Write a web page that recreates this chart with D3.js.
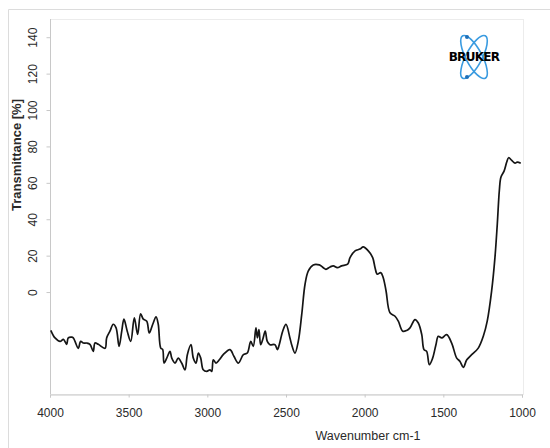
<!DOCTYPE html>
<html>
  <head>
    <meta charset="utf-8">
    <script src="https://d3js.org/d3.v7.min.js"></script>
    <style>
      body { margin: 0; background: #fff; }
      svg { font-family: "Liberation Sans", Arial, sans-serif; }
    </style>
  </head>
  <body>
    <script>

      // wavenumbers (cm-1)
      var wavenumber = [3995, 3968, 3936, 3915, 3894, 3884, 3862, 3852, 3841, 3820,
                        3805, 3788, 3767, 3746, 3725, 3714, 3693, 3650, 3640, 3619,
                        3598, 3580, 3561, 3544, 3530, 3509, 3487, 3464, 3443, 3424,
                        3407, 3385, 3369, 3347, 3326, 3312, 3296, 3284, 3275, 3258,
                        3237, 3226, 3205, 3185, 3163, 3142, 3127, 3104, 3089, 3072,
                        3057, 3042, 3026, 3004, 2983, 2972, 2962, 2945, 2924, 2899,
                        2856, 2831, 2803, 2771, 2746, 2724, 2708, 2691, 2682, 2672,
                        2661, 2648, 2632, 2619, 2602, 2570, 2555, 2543, 2521, 2500,
                        2475, 2464, 2443, 2422, 2400, 2379, 2358, 2327, 2288, 2263,
                        2246, 2220, 2199, 2174, 2146, 2108, 2093, 2061, 2030, 2009,
                        1977, 1949, 1934, 1920, 1898, 1882, 1864, 1839, 1807, 1786,
                        1758, 1733, 1712, 1680, 1659, 1637, 1623, 1606, 1589, 1568,
                        1547, 1532, 1510, 1479, 1447, 1415, 1394, 1373, 1351, 1320,
                        1278, 1246, 1221, 1193, 1172, 1157, 1144, 1134, 1114, 1097,
                        1085, 1065, 1044, 1030, 1008];

      // transmittance [%]
      var transmittance = [-21.0, -25.2, -27.1, -26.0, -28.7, -25.2, -24.8, -25.2, -27.1, -30.9,
                           -27.1, -28.0, -28.0, -28.7, -32.6, -28.0, -28.7, -30.9, -25.2, -21.5,
                           -17.7, -19.7, -29.8, -21.5, -14.9, -21.5, -27.1, -14.2, -23.2, -12.0,
                           -14.9, -16.0, -22.5, -17.7, -13.6, -17.7, -30.8, -31.5, -39.0, -36.3,
                           -32.6, -36.3, -39.0, -36.3, -39.0, -42.7, -34.4, -28.9, -36.3, -39.0,
                           -33.5, -36.3, -42.7, -43.6, -42.7, -43.6, -37.2, -39.0, -37.2, -34.4,
                           -31.6, -35.3, -39.0, -34.4, -33.5, -27.1, -29.8, -19.7, -25.2, -20.6,
                           -28.9, -26.1, -21.5, -27.1, -28.9, -28.9, -31.6, -28.9, -21.5, -17.8,
                           -25.2, -28.9, -33.5, -27.1, -12.3, 4.3, 11.6, 14.9, 14.9, 13.4,
                           12.5, 13.8, 14.4, 13.4, 14.4, 15.3, 18.9, 22.6, 23.6, 24.8,
                           22.6, 18.9, 13.4, 9.8, 10.7, 7.9, 0.6, -11.4, -13.3, -16.0,
                           -21.5, -21.1, -19.7, -15.1, -17.0, -23.4, -31.6, -32.6, -39.9, -36.3,
                           -28.9, -24.3, -25.2, -23.4, -28.0, -36.3, -38.1, -41.4, -37.2, -34.4,
                           -30.8, -24.3, -16.0, 0.6, 18.9, 37.4, 55.8, 63.1, 66.4, 71.4,
                           73.8, 72.3, 70.8, 71.4, 70.8];

      var xTicks = [4000, 3500, 3000, 2500, 2000, 1500, 1000];
      var yTicks = [0, 20, 40, 60, 80, 100, 120, 140];

      var spectrum = wavenumber.map(function(w, i) {
        return {w: w, t: transmittance[i]};
      });

      var W = 550, H = 448;
      var plot = {left: 50, right: 523, top: 19, bottom: 394};

      var svg = d3.select("body")
        .append("svg")
        .attr("width", W)
        .attr("height", H);

      // outer frame (left and top edges only are visible)
      svg.append("path")
        .attr("d", "M8.5," + H + "V9.5H" + W)
        .attr("fill", "none")
        .attr("stroke", "#dcdcdc");

      var x = d3.scaleLinear()
        .domain([4000, 1000])
        .range([plot.left, plot.right - 1]);

      var y = d3.scaleLinear()
        .domain([-56, 150])
        .range([plot.bottom, plot.top]);

      // plot box
      svg.append("rect")
        .attr("x", plot.left + 0.5)
        .attr("y", plot.top + 0.5)
        .attr("width", plot.right - plot.left)
        .attr("height", plot.bottom - plot.top)
        .attr("fill", "none")
        .attr("stroke", "#ececec");

      // x axis
      var xAxisG = svg.append("g")
        .attr("transform", "translate(0," + (plot.bottom + 0.5) + ")")
        .call(d3.axisBottom(x).tickValues(xTicks).tickSize(3).tickPadding(11)
          .tickFormat(d3.format("d")));

      xAxisG.select(".domain").attr("stroke", "#c8c8c8");
      xAxisG.selectAll(".tick line").attr("stroke", "#c8c8c8");
      xAxisG.selectAll(".tick text")
        .attr("fill", "#2a2a2a")
        .style("font-size", "12px");

      // y axis, labels turned on their side
      var yAxisG = svg.append("g")
        .attr("transform", "translate(" + (plot.left + 0.5) + ",0)")
        .call(d3.axisLeft(y).tickValues(yTicks).tickSize(4));

      yAxisG.select(".domain").remove();
      yAxisG.append("line")
        .attr("y1", plot.top)
        .attr("y2", plot.bottom)
        .attr("stroke", "#c8c8c8");
      yAxisG.selectAll(".tick line").attr("stroke", "#c8c8c8");
      yAxisG.selectAll(".tick text")
        .attr("x", 0)
        .attr("dy", "0.35em")
        .attr("transform", "translate(-18,0) rotate(-90)")
        .attr("text-anchor", "middle")
        .attr("fill", "#2a2a2a")
        .style("font-size", "12px");

      // axis titles
      svg.append("text")
        .attr("transform", "translate(16,155) rotate(-90)")
        .attr("dy", "0.35em")
        .attr("text-anchor", "middle")
        .attr("fill", "#2a2a2a")
        .style("font-size", "13px")
        .style("font-weight", "bold")
        .text("Transmittance [%]");

      svg.append("text")
        .attr("x", 368)
        .attr("y", 440)
        .attr("text-anchor", "middle")
        .attr("fill", "#2a2a2a")
        .style("font-size", "12.5px")
        .text("Wavenumber cm-1");

      // spectrum
      var line = d3.line()
        .x(function(d) { return x(d.w); })
        .y(function(d) { return y(d.t); })
        .curve(d3.curveCatmullRom.alpha(0.5));

      svg.append("path")
        .datum(spectrum)
        .attr("d", line)
        .attr("fill", "none")
        .attr("stroke", "#151515")
        .attr("stroke-width", 1.7)
        .attr("stroke-linejoin", "round");

      // Bruker logo
      var logo = svg.append("g").attr("transform", "translate(474,57)");
      [-62, 62].forEach(function(a) {
        logo.append("ellipse")
          .attr("rx", 24)
          .attr("ry", 8)
          .attr("transform", "rotate(" + a + ")")
          .attr("fill", "none")
          .attr("stroke", "#3a9be0")
          .attr("stroke-width", 1.6);
      });
      logo.append("circle").attr("cx", -7).attr("cy", -20).attr("r", 2).attr("fill", "#1f6fb8");
      logo.append("circle").attr("cx", -7).attr("cy", 20).attr("r", 2).attr("fill", "#1f6fb8");
      logo.append("text")
        .attr("y", 4)
        .attr("text-anchor", "middle")
        .attr("fill", "#000")
        .style("font-size", "12px")
        .style("font-weight", "bold")
        .style("font-family", "'DejaVu Sans', sans-serif")
        .style("letter-spacing", "-0.7px")
        .text("BRUKER");

    </script>
  </body>
</html>
